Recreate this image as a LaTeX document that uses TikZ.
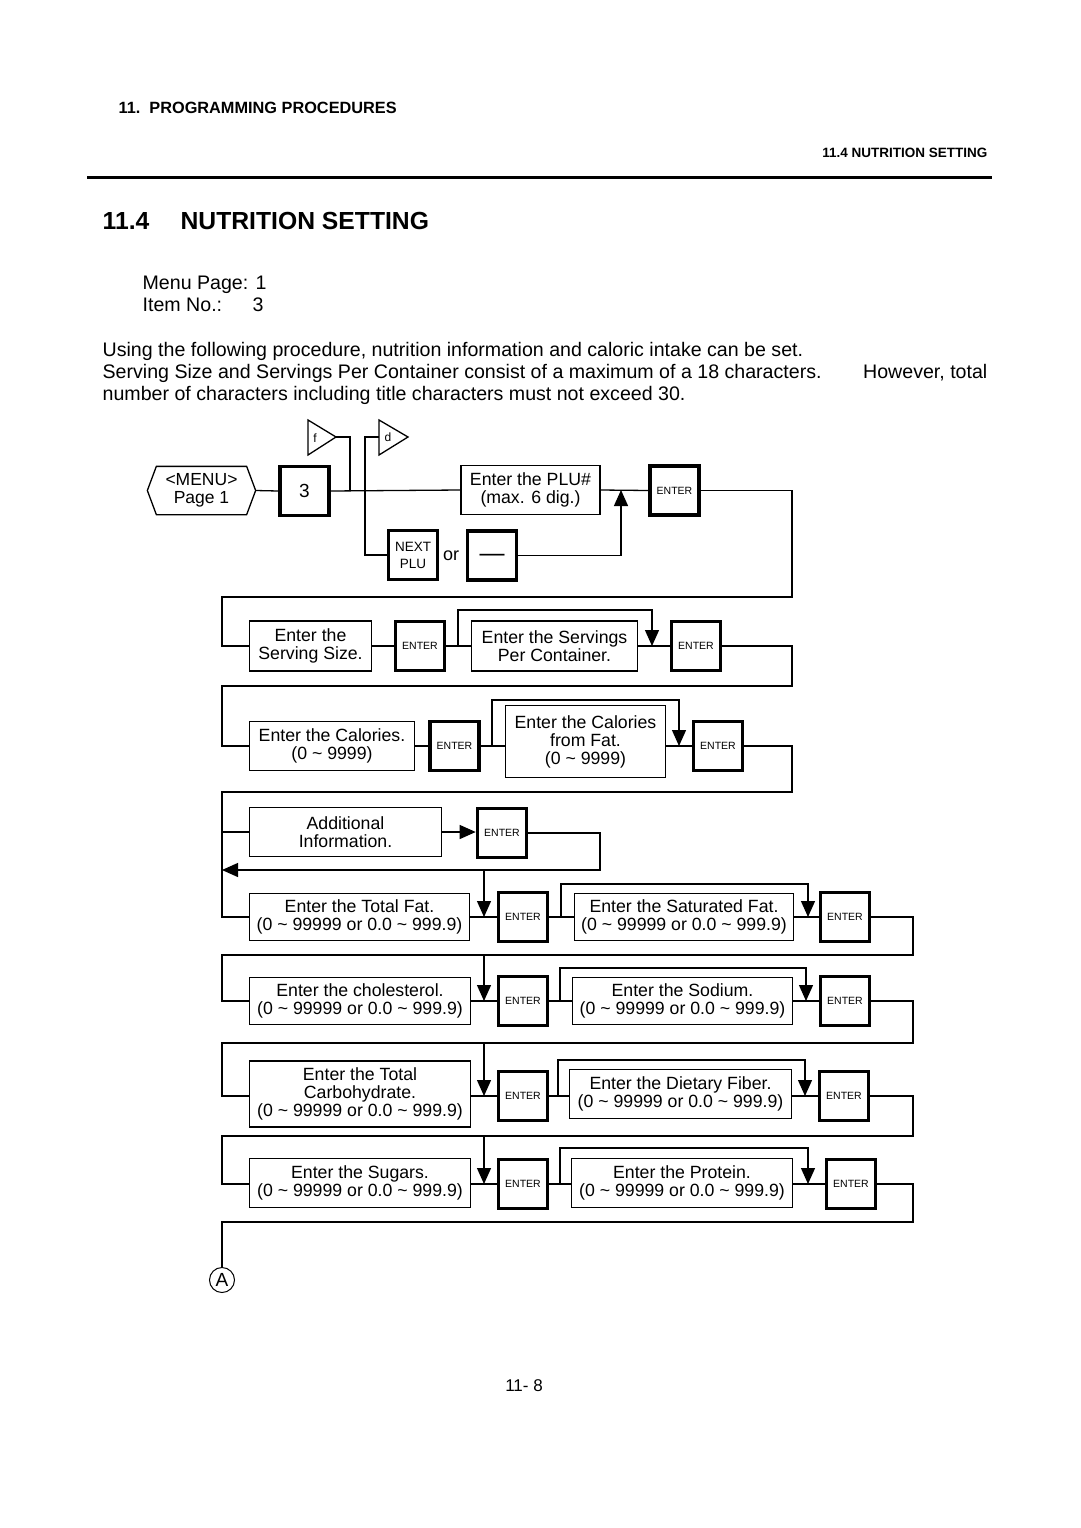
\documentclass[tikz,border=0pt]{standalone}
\usepackage{fontspec}
\setmainfont{Liberation Sans}
\usetikzlibrary{arrows.meta}
\newcommand\fsz[2]{\fontsize{#1pt}{#2pt}\selectfont}
\newcommand\mytilde{\textasciitilde}
\newcommand\rngtxt{(0 \mytilde\ 99999 or 0.0 \mytilde\ 999.9)}
\begin{document}
\begin{tikzpicture}[x=1pt,y=-1pt,
  line width=1.3pt,
  tbox/.style={draw, line width=1.3pt, inner sep=0pt, align=center, font=\fsz{17.7}{18}},
  kbox/.style={draw, line width=3.6pt, inner sep=0pt, align=center, minimum width=49pt, minimum height=49pt, font=\fsz{10.5}{12}},
  arr/.style={-{Triangle[length=16pt,width=14pt]}},
  body/.style={anchor=base west, inner sep=0pt, font=\fsz{19.6}{22}}]
\fill[white] (0,0) rectangle (1080,1528);
\useasboundingbox (0,0) rectangle (1080,1528);

% header
\node[anchor=base west, inner sep=0pt, font=\bfseries\fsz{16.3}{18}] (hdr) at (118,113) {11.\ \ PROGRAMMING PROCEDURES};
\node[anchor=base east, inner sep=0pt, font=\bfseries\fsz{13.5}{15}] (sub) at (988,157) {11.4 NUTRITION SETTING};
\draw[line width=3pt] (87,177) -- (992,177);
\node[anchor=base west, inner sep=0pt, font=\bfseries\fsz{24.7}{26}] (tnum) at (102,229) {11.4};
\node[anchor=base west, inner sep=0pt, font=\bfseries\fsz{24.7}{26}] (ttl) at (180,229) {NUTRITION SETTING};
\node[body] (mp) at (142,289) {Menu Page: 1};
\node[body] (it) at (142,311) {Item No.:};
\node[body] (itn) at (252,311) {3};
\node[body] (p1) at (102,356) {Using the following procedure, nutrition information and caloric intake can be set.};
\node[body] (p2) at (102,378) {Serving Size and Servings Per Container consist of a maximum of a 18 characters.};
\node[body, anchor=base east] (p2b) at (988,378) {However, total};
\node[body] (p3) at (102,400) {number of characters including title characters must not exceed 30.};

% ---------- nodes ----------
% row 0
\node[inner sep=0pt, minimum width=107pt, minimum height=47pt, align=center, font=\fsz{17.5}{18}] (menu) at (201.5,490.5) {<MENU>\\Page 1};
\node[kbox, font=\fsz{19}{20}] (k3) at (304.5,491) {3};
\node[inner sep=0pt, font=\fsz{12}{13}] (fk) at (315,438) {f};
\node[inner sep=0pt, font=\fsz{12}{13}] (dk) at (388,437) {d};
\node[tbox, minimum width=139pt, minimum height=49pt] (plu) at (530.5,490) {Enter the PLU\#\\(max. 6 dig.)};
\node[kbox] (e0) at (674.5,490.5) {ENTER};
\node[kbox, font=\fsz{13.5}{17}] (nxt) at (413,555) {NEXT\\PLU};
\node[inner sep=0pt, font=\fsz{18}{19}] (or) at (451,556) {or};
\node[kbox, font=\fsz{25}{25}] (dash) at (492,555.5) {\smash{\raisebox{-6pt}{—}}};
% row 1
\node[tbox, minimum width=122pt, minimum height=50pt] (ss) at (310.5,646) {Enter the\\Serving Size.};
\node[kbox] (e1a) at (420,646) {ENTER};
\node[tbox, minimum width=166pt, minimum height=50pt] (spc) at (554.5,646) {Enter the Servings\\Per Container.};
\node[kbox] (e1b) at (696,646) {ENTER};
% row 2
\node[tbox, minimum width=165pt, minimum height=49pt] (cal) at (332,746) {Enter the Calories.\\(0 \mytilde\ 9999)};
\node[kbox] (e2a) at (454.5,746) {ENTER};
\node[tbox, minimum width=160pt, minimum height=72pt] (cff) at (585.5,741.5) {Enter the Calories\\from Fat.\\(0 \mytilde\ 9999)};
\node[kbox] (e2b) at (718,746) {ENTER};
% row 3
\node[tbox, minimum width=192pt, minimum height=49pt] (add) at (345.5,832) {Additional\\Information.};
\node[kbox] (e3) at (502,833) {ENTER};
% row 4
\node[tbox, minimum width=220pt, minimum height=47pt] (tf) at (359.5,917) {Enter the Total Fat.\\\rngtxt};
\node[kbox] (e4a) at (523,917) {ENTER};
\node[tbox, minimum width=219pt, minimum height=47pt] (sat) at (684,917) {Enter the Saturated Fat.\\\rngtxt};
\node[kbox] (e4b) at (845,917) {ENTER};
% row 5
\node[tbox, minimum width=221pt, minimum height=47pt] (chol) at (360,1001) {Enter the cholesterol.\\\rngtxt};
\node[kbox] (e5a) at (523,1001) {ENTER};
\node[tbox, minimum width=220pt, minimum height=47pt] (sod) at (682.5,1001) {Enter the Sodium.\\\rngtxt};
\node[kbox] (e5b) at (845,1001) {ENTER};
% row 6
\node[tbox, minimum width=221pt, minimum height=66pt] (carb) at (360,1094) {Enter the Total\\Carbohydrate.\\\rngtxt};
\node[kbox] (e6a) at (523,1096) {ENTER};
\node[tbox, minimum width=222pt, minimum height=49pt] (fib) at (680.5,1094) {Enter the Dietary Fiber.\\\rngtxt};
\node[kbox] (e6b) at (844,1096) {ENTER};
% row 7
\node[tbox, minimum width=221pt, minimum height=49pt] (sug) at (360,1183) {Enter the Sugars.\\\rngtxt};
\node[kbox] (e7a) at (523,1184) {ENTER};
\node[tbox, minimum width=221pt, minimum height=49pt] (pro) at (682,1183) {Enter the Protein.\\\rngtxt};
\node[kbox] (e7b) at (851,1184) {ENTER};
\node[draw, circle, line width=1pt, minimum size=25pt, inner sep=0pt, font=\fsz{19}{20}] (A) at (222,1280) {A};
% page number
\node[inner sep=0pt, font=\fsz{17}{18}] (pg) at (524,1386) {11- 8};

% ---------- shapes and connectors ----------
\draw ([xshift=9pt]menu.north west) -- ([xshift=-9pt]menu.north east) -- (menu.east) -- ([xshift=-9pt]menu.south east) -- ([xshift=9pt]menu.south west) -- (menu.west) -- cycle;
\draw (308,420) -- (336,437) -- (308,455) -- cycle;
\draw (379,420) -- (408,437) -- (379,455) -- cycle;
\coordinate (ftip) at (336,437);
\coordinate (dleft) at (379,437);
\coordinate (fj) at (350,490);
\coordinate (dj) at (365,437);
\coordinate (a0) at (621,490);
\draw (menu.east) -- (k3.west);
\draw (k3.east) -- (plu.west);
\draw (ftip) -| (fj);
\draw (dleft) -- (dj) |- (nxt.west);
\draw[arr] (dash.east) -| (a0);
\draw (plu.east) -- (e0.west);
\draw (e0.east) -| (792,597) -- (222,597) |- (ss.west);

% row 1
\coordinate (l1a) at (458,646);
\coordinate (l1b) at (652,646);
\draw (ss.east) -- (e1a.west);
\draw (e1a.east) -- (spc.west);
\draw (spc.east) -- (e1b.west);
\draw[arr] (l1a) |- (652,610) -- (l1b);
\draw (e1b.east) -| (792,686) -- (222,686) |- (cal.west);

% row 2
\coordinate (l2a) at (492,746);
\coordinate (l2b) at (679,746);
\draw (cal.east) -- (e2a.west);
\draw (e2a.east) -- (e2a.east -| cff.west);
\draw (cff.east |- e2b.west) -- (e2b.west);
\draw[arr] (l2a) |- (679,700) -- (l2b);
\draw (e2b.east) -| (792,792) -- (222,792) |- (tf.west);

% row 3
\coordinate (lb) at (222,870);
\coordinate (c3) at (484,870);
\coordinate (a4) at (484,917);
\draw (222,832) -- (add.west);
\draw[arr] (add.east) -- (add.east -| e3.west);
\draw[arr] (e3.east) -| (600,870) -- (lb);
\draw[arr] (c3) -- (a4);

% row 4
\coordinate (l4a) at (561,917);
\coordinate (l4b) at (808,917);
\draw (tf.east) -- (e4a.west);
\draw (e4a.east) -- (sat.west);
\draw (sat.east) -- (e4b.west);
\draw[arr] (l4a) |- (808,884) -- (l4b);
\draw (e4b.east) -| (913,955) -- (222,955) |- (chol.west);

% row 5
\coordinate (c5) at (484,955);
\coordinate (a5) at (484,1001);
\coordinate (l5a) at (560,1001);
\coordinate (l5b) at (806,1001);
\draw[arr] (c5) -- (a5);
\draw (chol.east) -- (e5a.west);
\draw (e5a.east) -- (sod.west);
\draw (sod.east) -- (e5b.west);
\draw[arr] (l5a) |- (806,968) -- (l5b);
\draw (e5b.east) -| (913,1043) -- (222,1043) |- (e6a.west -| carb.west);

% row 6
\coordinate (c6) at (484,1043);
\coordinate (a6) at (484,1096);
\coordinate (l6a) at (558,1096);
\coordinate (l6b) at (805,1096);
\draw[arr] (c6) -- (a6);
\draw (carb.east |- a6) -- (e6a.west);
\draw (e6a.east) -- (e6a.east -| fib.west);
\draw (fib.east |- e6b.west) -- (e6b.west);
\draw[arr] (l6a) |- (805,1060) -- (l6b);
\draw (e6b.east) -| (913,1136) -- (222,1136) |- (e7a.west -| sug.west);

% row 7
\coordinate (c7) at (484,1136);
\coordinate (a7) at (484,1184);
\coordinate (l7a) at (560,1184);
\coordinate (l7b) at (808,1184);
\draw[arr] (c7) -- (a7);
\draw (sug.east |- a7) -- (e7a.west);
\draw (e7a.east) -- (e7a.east -| pro.west);
\draw (pro.east |- e7b.west) -- (e7b.west);
\draw[arr] (l7a) |- (808,1148) -- (l7b);
\draw (e7b.east) -| (913,1222) -- (222,1222) -- (A.north);
\end{tikzpicture}
\end{document}
